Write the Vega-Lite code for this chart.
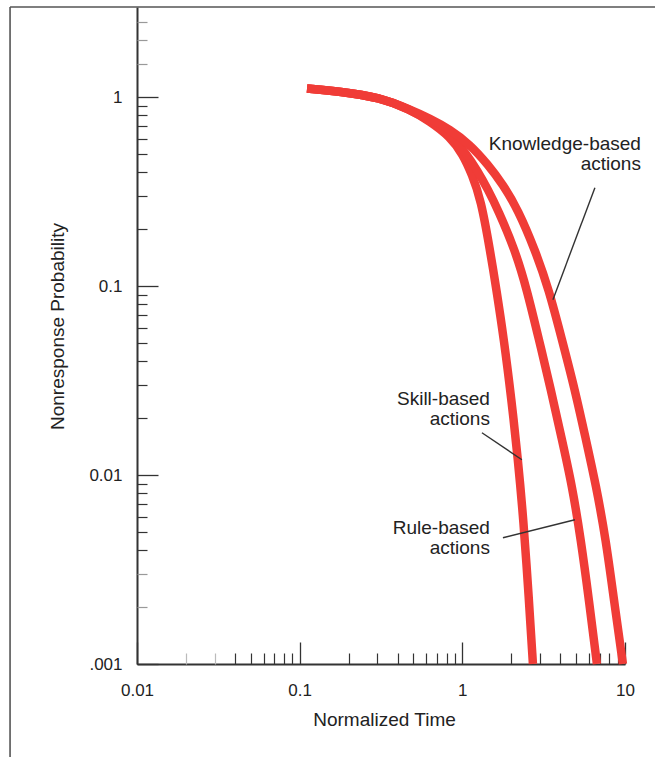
{
  "$schema": "https://vega.github.io/schema/vega-lite/v6.json",
  "width": 488,
  "height": 657,
  "autosize": {"type": "none"},
  "padding": {"left": 137, "top": 7, "right": 30, "bottom": 93},
  "background": "white",
  "config": {"view": {"stroke": null}, "font": "Liberation Sans"},
  "datasets": {
    "curves": [
      {"series": "Skill-based", "t": 0.111, "p": 1.112},
      {"series": "Skill-based", "t": 0.177, "p": 1.072},
      {"series": "Skill-based", "t": 0.311, "p": 0.996},
      {"series": "Skill-based", "t": 0.476, "p": 0.861},
      {"series": "Skill-based", "t": 0.632, "p": 0.744},
      {"series": "Skill-based", "t": 0.839, "p": 0.619},
      {"series": "Skill-based", "t": 1.0085, "p": 0.497},
      {"series": "Skill-based", "t": 1.1455, "p": 0.39},
      {"series": "Skill-based", "t": 1.301, "p": 0.287},
      {"series": "Skill-based", "t": 1.478, "p": 0.156},
      {"series": "Skill-based", "t": 1.62, "p": 0.0958},
      {"series": "Skill-based", "t": 1.802, "p": 0.0521},
      {"series": "Skill-based", "t": 2.004, "p": 0.0251},
      {"series": "Skill-based", "t": 2.197, "p": 0.0121},
      {"series": "Skill-based", "t": 2.375, "p": 0.0058},
      {"series": "Skill-based", "t": 2.567, "p": 0.00219},
      {"series": "Skill-based", "t": 2.716, "p": 0.001},
      {"series": "Rule-based", "t": 0.111, "p": 1.112},
      {"series": "Rule-based", "t": 0.177, "p": 1.072},
      {"series": "Rule-based", "t": 0.311, "p": 0.996},
      {"series": "Rule-based", "t": 0.476, "p": 0.861},
      {"series": "Rule-based", "t": 0.632, "p": 0.753},
      {"series": "Rule-based", "t": 0.839, "p": 0.635},
      {"series": "Rule-based", "t": 1.0375, "p": 0.516},
      {"series": "Rule-based", "t": 1.247, "p": 0.404},
      {"series": "Rule-based", "t": 1.437, "p": 0.3245},
      {"series": "Rule-based", "t": 1.655, "p": 0.254},
      {"series": "Rule-based", "t": 2.105, "p": 0.156},
      {"series": "Rule-based", "t": 2.495, "p": 0.0958},
      {"series": "Rule-based", "t": 2.957, "p": 0.0521},
      {"series": "Rule-based", "t": 3.504, "p": 0.0283},
      {"series": "Rule-based", "t": 4.095, "p": 0.0154},
      {"series": "Rule-based", "t": 4.717, "p": 0.00888},
      {"series": "Rule-based", "t": 5.358, "p": 0.00454},
      {"series": "Rule-based", "t": 5.999, "p": 0.00219},
      {"series": "Rule-based", "t": 6.72, "p": 0.001},
      {"series": "Knowledge-based", "t": 0.111, "p": 1.112},
      {"series": "Knowledge-based", "t": 0.177, "p": 1.072},
      {"series": "Knowledge-based", "t": 0.311, "p": 0.996},
      {"series": "Knowledge-based", "t": 0.476, "p": 0.861},
      {"series": "Knowledge-based", "t": 0.632, "p": 0.771},
      {"series": "Knowledge-based", "t": 0.839, "p": 0.675},
      {"series": "Knowledge-based", "t": 1.114, "p": 0.562},
      {"series": "Knowledge-based", "t": 1.437, "p": 0.44},
      {"series": "Knowledge-based", "t": 1.777, "p": 0.345},
      {"series": "Knowledge-based", "t": 2.197, "p": 0.254},
      {"series": "Knowledge-based", "t": 2.794, "p": 0.156},
      {"series": "Knowledge-based", "t": 3.406, "p": 0.0958},
      {"series": "Knowledge-based", "t": 4.095, "p": 0.0521},
      {"series": "Knowledge-based", "t": 4.921, "p": 0.0283},
      {"series": "Knowledge-based", "t": 5.75, "p": 0.0154},
      {"series": "Knowledge-based", "t": 6.624, "p": 0.00888},
      {"series": "Knowledge-based", "t": 7.632, "p": 0.00454},
      {"series": "Knowledge-based", "t": 8.546, "p": 0.00219},
      {"series": "Knowledge-based", "t": 9.707, "p": 0.001}
    ],
    "leaders": [
      {"series": "Knowledge-based", "x": 6.53, "y": 0.332, "x2": 3.605, "y2": 0.0848},
      {"series": "Skill-based", "x": 1.32, "y": 0.01675, "x2": 2.324, "y2": 0.01205},
      {"series": "Rule-based", "x": 1.777, "y": 0.00466, "x2": 4.92, "y2": 0.0058}
    ],
    "labels": [
      {"text": "Knowledge-based\nactions", "x": 12.53, "y": 0.528},
      {"text": "Skill-based\nactions", "x": 1.478, "y": 0.0234},
      {"text": "Rule-based\nactions", "x": 1.478, "y": 0.00486}
    ]
  },
  "layer": [
    {
      "data": {"values": [{}]},
      "mark": {"type": "rule", "color": "#555", "strokeWidth": 1.6},
      "encoding": {
        "x": {"datum": 0.001658, "type": "quantitative", "scale": {"type": "log", "domain": [0.01, 10], "nice": false}, "axis": null},
        "x2": {"datum": 15.3},
        "y": {"datum": 3, "type": "quantitative", "scale": {"type": "log", "domain": [0.001, 3], "nice": false}, "axis": null}
      }
    },
    {
      "data": {"values": [{}]},
      "mark": {"type": "rule", "color": "#555", "strokeWidth": 1.6},
      "encoding": {
        "x": {"datum": 0.001658, "type": "quantitative", "scale": {"type": "log", "domain": [0.01, 10], "nice": false}, "axis": null},
        "y": {"datum": 3, "type": "quantitative", "scale": {"type": "log", "domain": [0.001, 3], "nice": false}, "axis": null},
        "y2": {"datum": 0.000322}
      }
    },
    {
      "data": {"name": "curves"},
      "mark": {"type": "line", "color": "#f03c37", "strokeWidth": 8.5, "strokeCap": "butt", "interpolate": "basis"},
      "encoding": {
        "x": {
          "field": "t", "type": "quantitative",
          "scale": {"type": "log", "domain": [0.01, 10], "nice": false},
          "axis": {
            "orient": "bottom", "values": [0.01, 0.1, 1, 10], "format": "~g",
            "grid": false, "tickSize": -22, "tickWidth": 1.3, "tickColor": "#333",
            "domainColor": "#333", "domainWidth": 2,
            "labelFontSize": 17, "labelColor": "#222", "labelPadding": 40,
            "labelFlush": false, "labelOverlap": false,
            "title": "Normalized Time", "titleFontSize": 19, "titleFontWeight": "normal",
            "titleColor": "#222", "titleX": 247, "titleY": 61,
            "titleBaseline": "alphabetic", "titleAlign": "center"
          }
        },
        "y": {
          "field": "p", "type": "quantitative",
          "scale": {"type": "log", "domain": [0.001, 3], "nice": false},
          "axis": {
            "orient": "left", "values": [0.001, 0.01, 0.1, 1],
            "labelExpr": "datum.value < 0.005 ? '.001' : format(datum.value, '~g')",
            "grid": false, "tickSize": -21, "tickWidth": 1.3, "tickColor": "#333",
            "domainColor": "#333", "domainWidth": 2,
            "labelFontSize": 17, "labelColor": "#222", "labelPadding": 36,
            "labelFlush": false, "labelOverlap": false,
            "title": "Nonresponse Probability", "titleFontSize": 19, "titleFontWeight": "normal",
            "titleColor": "#222", "titleX": -74, "titleY": 319, "titleAngle": -90,
            "titleBaseline": "alphabetic", "titleAlign": "center"
          }
        },
        "detail": {"field": "series"},
        "order": {"field": "t", "type": "quantitative"}
      }
    },
    {
      "data": {"name": "leaders"},
      "mark": {"type": "rule", "color": "#333", "strokeWidth": 1.4},
      "encoding": {
        "x": {"field": "x", "type": "quantitative", "scale": {"type": "log", "domain": [0.01, 10], "nice": false}, "axis": null},
        "y": {"field": "y", "type": "quantitative", "scale": {"type": "log", "domain": [0.001, 3], "nice": false}, "axis": null},
        "x2": {"field": "x2"},
        "y2": {"field": "y2"}
      }
    },
    {
      "data": {"name": "labels"},
      "mark": {"type": "text", "align": "right", "baseline": "alphabetic", "fontSize": 19, "lineHeight": 20, "lineBreak": "\n", "color": "#222", "font": "Liberation Sans"},
      "encoding": {
        "x": {
          "field": "x", "type": "quantitative",
          "scale": {"type": "log", "domain": [0.01, 10], "nice": false},
          "axis": {
            "orient": "bottom",
            "values": [0.02, 0.03, 0.04, 0.05, 0.06, 0.07, 0.08, 0.09, 0.2, 0.3, 0.4, 0.5, 0.6, 0.7, 0.8, 0.9, 2, 3, 4, 5, 6, 7, 8, 9],
            "labels": false, "domain": false, "grid": false, "title": null,
            "tickSize": -11, "tickWidth": 1.2,
            "tickColor": {"condition": {"test": "datum.value < 0.035", "value": "#bbb"}, "value": "#333"}
          }
        },
        "y": {
          "field": "y", "type": "quantitative",
          "scale": {"type": "log", "domain": [0.001, 3], "nice": false},
          "axis": {
            "orient": "left",
            "values": [0.002, 0.003, 0.004, 0.005, 0.006, 0.007, 0.008, 0.009, 0.02, 0.03, 0.04, 0.05, 0.06, 0.07, 0.08, 0.09, 0.2, 0.3, 0.4, 0.5, 0.6, 0.7, 0.8, 0.9, 1.5, 2, 2.5],
            "labels": false, "domain": false, "grid": false, "title": null,
            "tickSize": -10, "tickWidth": 1.2,
            "tickColor": {"condition": {"test": "datum.value < 0.0035 || datum.value > 1.2", "value": "#999"}, "value": "#333"}
          }
        },
        "text": {"field": "text"}
      }
    }
  ],
  "resolve": {"axis": {"x": "independent", "y": "independent"}}
}
